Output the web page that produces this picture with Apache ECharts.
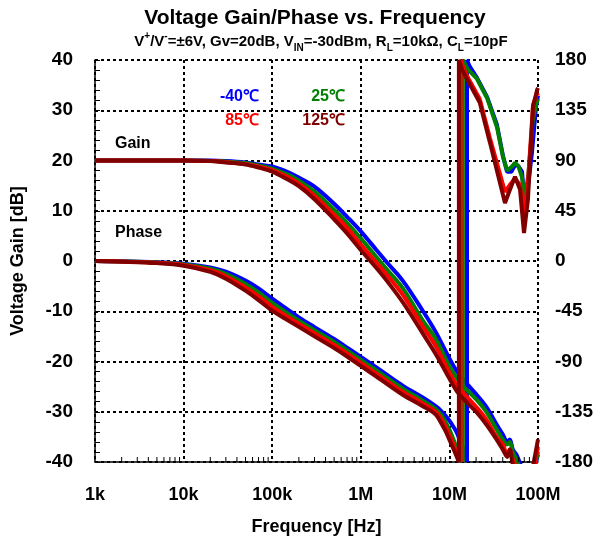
<!DOCTYPE html>
<html><head><meta charset="utf-8">
<script src="https://cdn.jsdelivr.net/npm/echarts@6/dist/echarts.min.js"></script>
<style>html,body{margin:0;padding:0;background:#fff}#c{width:598px;height:541px}</style>
</head><body><div id="c"></div>
<script>
// ---- data ----
const xTickValues = [1e3, 1e4, 1e5, 1e6, 1e7, 1e8];
const xTickLabels = ['1k', '10k', '100k', '1M', '10M', '100M'];
const gainTicks = [40, 30, 20, 10, 0, -10, -20, -30, -40];
const phaseTicks = [180, 135, 90, 45, 0, -45, -90, -135, -180];
const temps = ['-40℃', '25℃', '85℃', '125℃'];

const gainFreq = [1e3, 2e3, 5e3, 1e4, 2e4, 3e4, 5e4, 7e4, 1e5, 1.5e5, 2e5, 3e5, 5e5, 7e5, 1e6, 1.5e6, 2e6, 3e6, 5e6, 7e6, 1e7,
  1.2e7, 1.5e7, 2e7, 2.6e7, 3.4e7, 4e7, 4.5e7, 4.8e7, 5.2e7, 5.7e7, 6.2e7, 7.5e7, 8.5e7, 9.3e7, 1e8];
const gainM40 = [20, 20, 20, 20, 20, 19.9, 19.6, 19.2, 18.8, 17.7, 16.6, 14.8, 11.4, 8.8, 5.9, 2.2, -0.4, -4.0, -9.9, -14.1, -19.4,
  -21.8, -24, -26.5, -29, -32.5, -34.5, -36, -35.5, -37.5, -38.5, -40, -43, -42, -40.5, -38.5];
const gain25 = [20, 20, 20, 20, 19.9, 19.8, 19.5, 19.0, 18.4, 17.2, 16.0, 13.8, 10.2, 7.6, 4.5, 0.8, -1.8, -5.5, -11.8, -15.5, -21.0,
  -23.2, -25.3, -27.5, -30, -33.5, -35.5, -36.5, -36, -38, -39.5, -41, -44, -43, -40.5, -38];
const gain85 = [20, 20, 20, 20, 19.9, 19.7, 19.3, 18.8, 18.1, 16.7, 15.4, 13.0, 9.2, 6.6, 3.3, -0.3, -2.9, -6.8, -13.0, -16.9, -22.2,
  -24.6, -26.6, -29, -31.5, -35, -36.5, -38.5, -37.5, -39.5, -41, -42.5, -45, -43, -40, -37];
const gain125 = [20, 20, 20, 20, 19.9, 19.6, 19.2, 18.6, 17.8, 16.2, 14.9, 12.3, 8.3, 5.5, 2.2, -1.4, -4.1, -8.3, -14.4, -18.5, -23.4,
  -25.8, -27.8, -30, -32.5, -35.5, -37.5, -39, -37.5, -40.5, -42, -43, -45, -42, -38.5, -35.5];

const phaseM40 = [[1e3,0],[2e3,-0.3],[5e3,-1],[1e4,-2.4],[2e4,-5.7],[3e4,-9.5],[5e4,-17.5],[7e4,-24.5],[1e5,-33.7],[1.5e5,-43.5],[2e5,-50.5],[3e5,-59.2],[5e5,-69.8],[7e5,-77.5],[1e6,-85.8],[1.5e6,-95.2],[2e6,-102.3],[3e6,-111.8],[5e6,-122.3],[7e6,-130],[8e6,-134],[9e6,-138.5],[1e7,-143],[1.1e7,-148],[1.2e7,-153],[1.3e7,-159.5],[1.4e7,-166],[1.5e7,-173.5],[1.58e7,-180],[1.58e7,180],[1.7e7,174],[2.05e7,164],[2.66e7,147],[3.44e7,122],[4.03e7,94],[4.47e7,80],[5e7,80],[5.5e7,86],[6e7,85],[6.6e7,80],[7.13e7,48],[7.8e7,70],[8.55e7,97],[9.5e7,138],[1e8,148]];
const phase25 = [[1e3,0],[2e3,-0.4],[5e3,-1.3],[1e4,-3],[2e4,-7],[3e4,-11.5],[5e4,-20.5],[7e4,-28],[1e5,-37.5],[1.5e5,-47],[2e5,-53.5],[3e5,-62],[5e5,-72.5],[7e5,-80],[1e6,-88.5],[1.5e6,-98],[2e6,-105],[3e6,-114.5],[5e6,-125],[7e6,-132.5],[8e6,-137.5],[9e6,-144],[1e7,-151],[1.1e7,-159],[1.2e7,-167],[1.3e7,-174.5],[1.42e7,-180],[1.42e7,180],[1.6e7,172],[2.05e7,163],[2.66e7,146],[3.44e7,120],[4.03e7,93],[4.47e7,81],[5e7,84],[5.5e7,88],[6e7,85],[6.6e7,75],[7.1e7,55],[7.8e7,78],[8.7e7,125],[9.5e7,140],[1e8,145]];
const phase85 = [[1e3,0],[2e3,-0.5],[5e3,-1.6],[1e4,-3.6],[2e4,-8.3],[3e4,-13.6],[5e4,-23.6],[7e4,-31.5],[1e5,-41],[1.5e5,-50],[2e5,-56.2],[3e5,-64.7],[5e5,-75.2],[7e5,-82.8],[1e6,-91.3],[1.5e6,-100.8],[2e6,-107.8],[3e6,-117.2],[5e6,-127.5],[7e6,-135],[8e6,-141],[9e6,-148],[1e7,-156],[1.1e7,-163.5],[1.2e7,-171],[1.34e7,-180],[1.34e7,180],[1.45e7,172],[1.65e7,163],[2.2e7,145],[2.87e7,110],[3.72e7,78],[4.24e7,62],[4.8e7,68],[5.5e7,74],[6.27e7,68],[6.9e7,40],[7.7e7,70],[8.8e7,140],[9.75e7,150],[1e8,148]];
const phase125 = [[1e3,0],[2e3,-0.6],[5e3,-1.9],[1e4,-4.2],[2e4,-9.7],[3e4,-15.8],[5e4,-26.6],[7e4,-35],[1e5,-44.5],[1.5e5,-53.2],[2e5,-59],[3e5,-67.5],[5e5,-78],[7e5,-85.5],[1e6,-94],[1.5e6,-103.5],[2e6,-110.5],[3e6,-120],[5e6,-130],[7e6,-137.5],[8e6,-144.5],[9e6,-152],[1e7,-160],[1.1e7,-167.5],[1.2e7,-174.5],[1.28e7,-180],[1.28e7,180],[1.39e7,171.6],[1.58e7,162.7],[2.2e7,142],[2.87e7,106],[3.72e7,70],[4.24e7,52],[4.83e7,64],[5.5e7,75.5],[6.27e7,64],[6.95e7,25],[7.7e7,55],[8.78e7,138],[9.75e7,153],[1e8,155]];

const xMinorTicks = [];
for (let d = 1e3; d < 1e8; d *= 10) for (let k = 2; k <= 9; k++) xMinorTicks.push([d * k, -40]);

// ---- chart ----
const FONT = '"Liberation Sans", Arial, sans-serif';
const colors = ['#0000ff', '#008000', '#ff0000', '#800000'];
const gains = [gainM40, gain25, gain85, gain125];
const phases = [phaseM40, phase25, phase85, phase125];
const zip = (xs, ys) => xs.map((x, i) => [x, ys[i]]);

const chart = echarts.init(document.getElementById('c'), null, {renderer: 'canvas'});
const dotted = {color: '#000', width: 2, type: [3, 3]};
const series = [];
gains.forEach((g, i) => series.push({
  type: 'line', name: temps[i] + ' gain', data: zip(gainFreq, g), xAxisIndex: 0, yAxisIndex: 0,
  showSymbol: false, symbol: 'none', clip: true, smooth: 0.35,
  lineStyle: {color: colors[i], width: 4}, z: 3 + i
}));
phases.forEach((p, i) => {
  // split at the -180 -> +180 wrap: smooth part before, plain part (wrap + tail) after
  const w = p.findIndex(d => d[1] === -180);
  series.push({
    type: 'line', name: temps[i] + ' phase', data: p.slice(0, w + 1), xAxisIndex: 0, yAxisIndex: 1,
    showSymbol: false, symbol: 'none', clip: true, smooth: 0.35,
    lineStyle: {color: colors[i], width: 4}, z: 3 + i
  });
  series.push({
    type: 'line', name: temps[i] + ' phase wrap', data: p.slice(w), xAxisIndex: 0, yAxisIndex: 1,
    showSymbol: false, symbol: 'none', clip: true,
    lineStyle: {color: colors[i], width: 4}, z: 3 + i
  });
});
series.push({
  type: 'custom', data: xMinorTicks, xAxisIndex: 0, yAxisIndex: 0, silent: true, z: 10,
  renderItem: (params, api) => {
    const p = api.coord([api.value(0), api.value(1)]);
    return {type: 'line', shape: {x1: p[0], y1: p[1], x2: p[0], y2: p[1] - 5}, style: {stroke: '#000', lineWidth: 1}};
  }
});

const txt = (x, y, text, color, size, align) => ({
  type: 'text', x: x, y: y, z: 20,
  style: {text: text, fill: color, font: 'bold ' + size + 'px ' + FONT, align: align || 'center', verticalAlign: 'middle'}
});

chart.setOption({
  animation: false,
  backgroundColor: '#fff',
  grid: {left: 95, top: 60, width: 443, height: 402, outerBoundsMode: 'none', containLabel: false},
  xAxis: {
    type: 'log', logBase: 10, min: 1e3, max: 1e8,
    axisLine: {show: true, onZero: false, lineStyle: {color: '#000', width: 1.5}},
    axisTick: {show: false},
    axisLabel: {
      color: '#000', fontWeight: 'bold', fontSize: 18, fontFamily: FONT, margin: 24,
      formatter: v => { const i = xTickValues.findIndex(t => Math.abs(Math.log10(t) - Math.log10(v)) < 1e-6); return i >= 0 ? xTickLabels[i] : ''; }
    },
    splitLine: {show: true, lineStyle: dotted},
    name: 'Frequency [Hz]', nameLocation: 'middle', nameGap: 56,
    nameTextStyle: {color: '#000', fontWeight: 'bold', fontSize: 18, fontFamily: FONT}
  },
  yAxis: [{
    type: 'value', min: -40, max: 40, interval: 10,
    axisLine: {show: true, onZero: false, lineStyle: {color: '#000', width: 1.5}},
    axisTick: {show: true, inside: true, length: 5, lineStyle: {color: '#000'}},
    minorTick: {show: true, splitNumber: 5, length: 5, lineStyle: {color: '#000'}},
    axisLabel: {color: '#000', fontWeight: 'bold', fontSize: 19, fontFamily: FONT, margin: 22,
      formatter: v => { const i = gainTicks.indexOf(v); return i >= 0 ? String(gainTicks[i]) : ''; }},
    splitLine: {show: true, lineStyle: dotted},
    name: 'Voltage Gain [dB]', nameLocation: 'middle', nameGap: 68, nameRotate: 90,
    nameTextStyle: {color: '#000', fontWeight: 'bold', fontSize: 18, fontFamily: FONT}
  }, {
    type: 'value', min: -180, max: 180, interval: 45, position: 'right',
    axisLine: {show: false}, axisTick: {show: false}, splitLine: {show: false},
    axisLabel: {color: '#000', fontWeight: 'bold', fontSize: 19, fontFamily: FONT, margin: 17,
      formatter: v => { const i = phaseTicks.indexOf(v); return i >= 0 ? String(phaseTicks[i]) : ''; }}
  }],
  graphic: [
    txt(315, 18, 'Voltage Gain/Phase vs. Frequency', '#000', 21),
    {
      type: 'text', x: 321, y: 42, z: 20,
      style: {
        text: '{n|V}{sup|+}{n|/V}{sup|-}{n|=±6V, Gv=20dB, V}{sub|IN}{n|=-30dBm, R}{sub|L}{n|=10kΩ, C}{sub|L}{n|=10pF}',
        align: 'center', verticalAlign: 'middle', fill: '#000',
        rich: {
          n: {fontSize: 15, fontWeight: 'bold', fontFamily: FONT, fill: '#000', lineHeight: 22, verticalAlign: 'middle'},
          sup: {fontSize: 10, fontWeight: 'bold', fontFamily: FONT, fill: '#000', lineHeight: 22, verticalAlign: 'top'},
          sub: {fontSize: 10, fontWeight: 'bold', fontFamily: FONT, fill: '#000', lineHeight: 22, verticalAlign: 'bottom'}
        }
      }
    },
    txt(259, 97, temps[0], colors[0], 16, 'right'),
    txt(345, 97, temps[1], colors[1], 16, 'right'),
    txt(259, 121, temps[2], colors[2], 16, 'right'),
    txt(345, 121, temps[3], colors[3], 16, 'right'),
    txt(115, 144, 'Gain', '#000', 16, 'left'),
    txt(115, 233, 'Phase', '#000', 16, 'left')
  ],
  series: series
});
</script>
</body></html>
